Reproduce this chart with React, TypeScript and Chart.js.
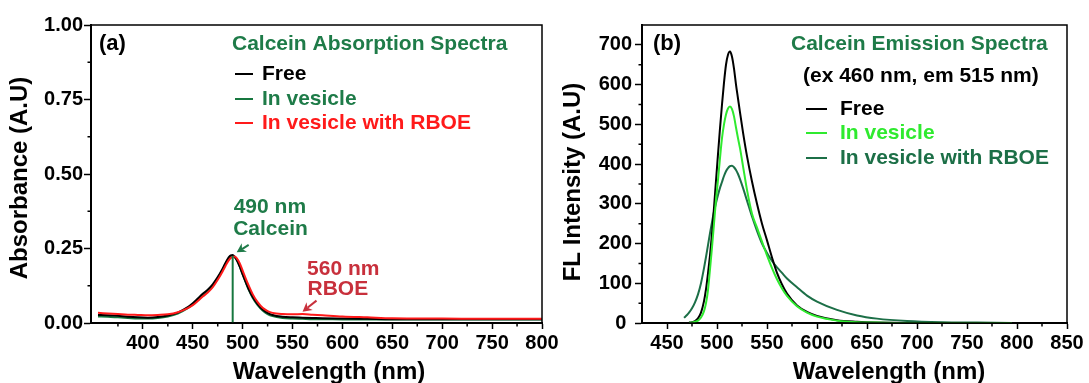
import React, { useEffect, useRef } from "react";
import { Chart, registerables } from "chart.js";

Chart.register(...registerables);

const FONT = '"Liberation Sans", Arial, Helvetica, sans-serif';

// ---------- Panel (a): absorption ----------
const absWavelength = [355, 365, 375, 385, 395, 405, 415, 425, 435, 445, 450, 455, 460, 465, 470, 475, 480, 483, 486, 488, 490, 492, 494, 497, 500, 503, 506, 510, 515, 520, 525, 530, 540, 550, 560, 570, 580, 600, 625, 650, 700, 750, 800];
const absFree = [0.027, 0.026, 0.024, 0.021, 0.019, 0.018, 0.020, 0.025, 0.035, 0.053, 0.066, 0.082, 0.098, 0.112, 0.130, 0.154, 0.183, 0.203, 0.220, 0.227, 0.228, 0.222, 0.212, 0.190, 0.163, 0.138, 0.114, 0.088, 0.063, 0.045, 0.034, 0.027, 0.021, 0.019, 0.018, 0.017, 0.016, 0.015, 0.014, 0.013, 0.013, 0.013, 0.013];
const absVesicle = [0.022, 0.021, 0.019, 0.017, 0.015, 0.015, 0.017, 0.022, 0.032, 0.050, 0.062, 0.077, 0.093, 0.107, 0.125, 0.150, 0.180, 0.200, 0.217, 0.224, 0.226, 0.221, 0.211, 0.190, 0.163, 0.137, 0.112, 0.085, 0.060, 0.042, 0.030, 0.023, 0.017, 0.015, 0.014, 0.013, 0.013, 0.012, 0.012, 0.012, 0.012, 0.012, 0.012];
const absVesicleRboe = [0.034, 0.032, 0.030, 0.028, 0.027, 0.026, 0.027, 0.029, 0.036, 0.050, 0.060, 0.074, 0.089, 0.102, 0.120, 0.145, 0.174, 0.193, 0.210, 0.218, 0.222, 0.223, 0.218, 0.201, 0.176, 0.150, 0.126, 0.097, 0.070, 0.051, 0.040, 0.034, 0.030, 0.029, 0.030, 0.028, 0.026, 0.022, 0.019, 0.016, 0.015, 0.014, 0.014];
const absMarkerX = [490, 490];
const absMarkerY = [0, 0.225];
const absXTicks = [400, 450, 500, 550, 600, 650, 700, 750, 800];
const absXMinor = [375, 425, 475, 525, 575, 625, 675, 725, 775];
const absYTicks = [0, 0.25, 0.5, 0.75, 1.0];
const absYMinor = [0.125, 0.375, 0.625, 0.875];

// ---------- Panel (b): emission ----------
const emWavelength = [467, 470, 472, 475, 478, 481, 484, 487, 489, 491, 493, 495, 497, 499, 501, 503, 505, 507, 509, 511, 513, 515, 517, 519, 521, 523, 526, 530, 535, 540, 545, 550, 555, 560, 565, 570, 580, 590, 600, 620, 640, 660, 690, 725, 760, 795];
const emFree = [null, null, 1, 2, 5, 12, 26, 55, 85, 125, 170, 225, 290, 358, 425, 490, 550, 605, 650, 675, 683, 670, 640, 600, 565, 530, 480, 420, 356, 300, 250, 208, 165, 126, 97, 74, 44, 28, 18, 7, 3, 1, 0, 0, 0, 0];
const emVesicle = [null, null, 0.5, 1, 3, 6, 14, 30, 50, 83, 135, 190, 250, 310, 360, 415, 465, 500, 525, 540, 545, 538, 520, 492, 465, 440, 395, 335, 275, 240, 205, 170, 138, 110, 87, 68, 42, 26, 16, 6, 2, 1, 0, 0, 0, 0];
const emVesicleRboe = [13, 20, 26, 37, 52, 72, 100, 138, 166, 196, 226, 254, 280, 302, 322, 340, 355, 370, 382, 390, 395, 396, 392, 385, 375, 362, 340, 308, 268, 232, 200, 176, 156, 140, 126, 112, 90, 69, 54, 33, 19, 11, 5, 2, 1, 0];
const emXTicks = [450, 500, 550, 600, 650, 700, 750, 800, 850];
const emXMinor = [475, 525, 575, 625, 675, 725, 775, 825];
const emYTicks = [0, 100, 200, 300, 400, 500, 600, 700];
const emYMinor = [50, 150, 250, 350, 450, 550, 650];

const GREEN_TXT = "#1e7b48";
const ABS_GREEN = "#17773f";
const RED = "#ff1a1a";
const RBOE_TXT = "#c8303c";
const EM_LIGHT = "#2fea2f";
const EM_DARK = "#1c6f47";

function pts(xs: number[], ys: (number | null)[]) {
  return xs.map((x, i) => ({ x, y: ys[i] }));
}

function arrow(ctx: CanvasRenderingContext2D, x1: number, y1: number, x2: number, y2: number, color: string) {
  const ang = Math.atan2(y2 - y1, x2 - x1);
  const L = 9, W = 5;
  ctx.strokeStyle = color;
  ctx.fillStyle = color;
  ctx.lineWidth = 2;
  ctx.beginPath();
  ctx.moveTo(x1, y1);
  ctx.lineTo(x2 - Math.cos(ang) * L * 0.7, y2 - Math.sin(ang) * L * 0.7);
  ctx.stroke();
  ctx.beginPath();
  ctx.moveTo(x2, y2);
  ctx.lineTo(x2 - L * Math.cos(ang) + W * Math.sin(ang), y2 - L * Math.sin(ang) - W * Math.cos(ang));
  ctx.lineTo(x2 - L * Math.cos(ang) * 0.7, y2 - L * Math.sin(ang) * 0.7);
  ctx.lineTo(x2 - L * Math.cos(ang) - W * Math.sin(ang), y2 - L * Math.sin(ang) + W * Math.cos(ang));
  ctx.closePath();
  ctx.fill();
}

function makeDecor(cfg: any) {
  return {
    id: "decor",
    afterDraw(chart: any) {
      const ctx: CanvasRenderingContext2D = chart.ctx;
      const ca = chart.chartArea;
      const xs = chart.scales.x;
      const ys = chart.scales.y;
      ctx.save();
      ctx.strokeStyle = "#000";
      ctx.lineWidth = 1.5;
      ctx.strokeRect(ca.left, ca.top, ca.right - ca.left, ca.bottom - ca.top);
      ctx.beginPath();
      for (const v of cfg.minorX) {
        const p = xs.getPixelForValue(v);
        ctx.moveTo(p, ca.bottom);
        ctx.lineTo(p, ca.bottom + 3.5);
      }
      for (const v of cfg.minorY) {
        const p = ys.getPixelForValue(v);
        ctx.moveTo(ca.left, p);
        ctx.lineTo(ca.left - 3.5, p);
      }
      ctx.stroke();
      ctx.textBaseline = "middle";
      for (const t of cfg.texts) {
        ctx.font = `bold ${t.size}px ${FONT}`;
        ctx.fillStyle = t.color;
        ctx.textAlign = t.align || "left";
        if (t.rotate) {
          ctx.save();
          ctx.translate(t.x, t.y);
          ctx.rotate(-Math.PI / 2);
          ctx.fillText(t.text, 0, 0);
          ctx.restore();
        } else {
          ctx.fillText(t.text, t.x, t.y);
        }
      }
      for (const t of cfg.notes || []) {
        ctx.font = `bold ${t.size}px ${FONT}`;
        ctx.fillStyle = t.color;
        ctx.textAlign = "left";
        ctx.fillText(t.text, xs.getPixelForValue(t.x), ys.getPixelForValue(t.y));
      }
      for (const a of cfg.arrows || []) {
        arrow(ctx, xs.getPixelForValue(a.x1), ys.getPixelForValue(a.y1), xs.getPixelForValue(a.x2), ys.getPixelForValue(a.y2), a.color);
      }
      const lg = cfg.legend;
      const items = chart.data.datasets.filter((d: any) => d.label);
      ctx.font = `bold ${lg.size}px ${FONT}`;
      ctx.textAlign = "left";
      items.forEach((d: any, i: number) => {
        const y = lg.ys[i];
        ctx.strokeStyle = d.borderColor;
        ctx.lineWidth = 2;
        ctx.beginPath();
        ctx.moveTo(lg.lineX, y);
        ctx.lineTo(lg.lineX + lg.lineLen, y);
        ctx.stroke();
        ctx.fillStyle = d.textColor || d.borderColor;
        ctx.fillText(d.label, lg.textX, y);
      });
      ctx.restore();
    },
  };
}

function axisCfg(min: number, max: number, ticks: number[], fit: (s: any) => void, tickLen: number, pad: number, fmt: (v: number) => string) {
  return {
    type: "linear",
    min,
    max,
    afterBuildTicks: (s: any) => {
      s.ticks = ticks.map((v) => ({ value: v }));
    },
    afterFit: (s: any) => {
      fit(s);
      s.paddingLeft = 0;
      s.paddingRight = 0;
      s.paddingTop = 0;
      s.paddingBottom = 0;
    },
    grid: { display: true, drawOnChartArea: false, drawTicks: true, tickLength: tickLen, tickWidth: 1.5, tickColor: "#000" },
    border: { display: true, color: "#000", width: 2 },
    ticks: {
      color: "#000",
      font: { family: FONT, size: 20, weight: "bold" },
      padding: pad,
      maxRotation: 0,
      autoSkip: false,
      callback: (v: any) => fmt(Number(v)),
    },
  };
}

function lineDs(label: string | undefined, xs: number[], ys: (number | null)[], color: string, order: number, textColor?: string) {
  return {
    label,
    textColor,
    data: pts(xs, ys),
    borderColor: color,
    backgroundColor: color,
    borderWidth: 2,
    pointRadius: 0,
    fill: false,
    cubicInterpolationMode: "monotone",
    order,
  };
}

function configA(): any {
  return {
    type: "line",
    data: {
      datasets: [
        lineDs("Free", absWavelength, absFree, "#000", 2),
        lineDs("In vesicle", absWavelength, absVesicle, ABS_GREEN, 3, GREEN_TXT),
        lineDs("In vesicle with RBOE", absWavelength, absVesicleRboe, RED, 1),
        { ...lineDs(undefined, absMarkerX, absMarkerY, ABS_GREEN, 0), cubicInterpolationMode: "default" },
      ],
    },
    options: {
      animation: false,
      responsive: false,
      events: [],
      layout: { autoPadding: false, padding: { left: 0, top: 25, right: 58, bottom: 0 } },
      plugins: { legend: { display: false }, tooltip: { enabled: false } },
      scales: {
        x: axisCfg(348, 800, absXTicks, (s) => { s.height = 60; }, 6, 2, (v) => String(v)),
        y: axisCfg(0, 1, absYTicks, (s) => { s.width = 91; }, 7, 1, (v) => v.toFixed(2)),
      },
    },
    plugins: [
      makeDecor({
        minorX: absXMinor,
        minorY: absYMinor,
        texts: [
          { text: "(a)", x: 99, y: 44, size: 22, color: "#000" },
          { text: "Calcein Absorption Spectra", x: 232, y: 44, size: 21, color: GREEN_TXT },
          { text: "Wavelength (nm)", x: 329, y: 372, size: 24, color: "#000", align: "center" },
          { text: "Absorbance (A.U)", x: 20, y: 178, size: 24, color: "#000", align: "center", rotate: true },
        ],
        notes: [
          { text: "490 nm", x: 491, y: 0.388, size: 21, color: GREEN_TXT },
          { text: "Calcein", x: 490.5, y: 0.316, size: 21, color: GREEN_TXT },
          { text: "560 nm", x: 564.5, y: 0.182, size: 21, color: RBOE_TXT },
          { text: "RBOE", x: 565, y: 0.112, size: 21, color: RBOE_TXT },
        ],
        arrows: [
          { x1: 506, y1: 0.262, x2: 494, y2: 0.237, color: GREEN_TXT },
          { x1: 574, y1: 0.075, x2: 560, y2: 0.038, color: RBOE_TXT },
        ],
        legend: { lineX: 235, lineLen: 18, textX: 262, ys: [74, 99, 123], size: 21 },
      }),
    ],
  };
}

function configB(): any {
  return {
    type: "line",
    data: {
      datasets: [
        lineDs("Free", emWavelength, emFree, "#000", 1),
        lineDs("In vesicle", emWavelength, emVesicle, EM_LIGHT, 0),
        lineDs("In vesicle with RBOE", emWavelength, emVesicleRboe, EM_DARK, 2),
      ],
    },
    options: {
      animation: false,
      responsive: false,
      events: [],
      layout: { autoPadding: false, padding: { left: 0, top: 25, right: 22, bottom: 0 } },
      plugins: { legend: { display: false }, tooltip: { enabled: false } },
      scales: {
        x: axisCfg(425, 850, emXTicks, (s) => { s.height = 60; }, 6, 2, (v) => String(v)),
        y: axisCfg(0, 750, emYTicks, (s) => { s.width = 97; }, 7, 3, (v) => (v === 0 ? "0 " : String(v))),
      },
    },
    plugins: [
      makeDecor({
        minorX: emXMinor,
        minorY: emYMinor,
        texts: [
          { text: "(b)", x: 108, y: 44, size: 22, color: "#000" },
          { text: "Calcein Emission Spectra", x: 246, y: 44, size: 21, color: GREEN_TXT },
          { text: "(ex 460 nm, em 515 nm)", x: 258, y: 76, size: 21, color: "#000" },
          { text: "Wavelength (nm)", x: 344, y: 372, size: 24, color: "#000", align: "center" },
          { text: "FL Intensity (A.U)", x: 28, y: 182, size: 24, color: "#000", align: "center", rotate: true },
        ],
        legend: { lineX: 261, lineLen: 21, textX: 295, ys: [109, 133, 158], size: 21 },
      }),
    ],
  };
}

export default function App() {
  const refA = useRef<HTMLCanvasElement>(null);
  const refB = useRef<HTMLCanvasElement>(null);
  useEffect(() => {
    const a = new Chart(refA.current as HTMLCanvasElement, configA());
    const b = new Chart(refB.current as HTMLCanvasElement, configB());
    return () => {
      a.destroy();
      b.destroy();
    };
  }, []);
  return (
    <div style={{ position: "fixed", left: 0, top: 0, width: 1089, height: 383, background: "#fff", overflow: "hidden" }}>
      <canvas ref={refA} width={600} height={383} style={{ position: "absolute", left: 0, top: 0, width: 600, height: 383 }} />
      <canvas ref={refB} width={544} height={383} style={{ position: "absolute", left: 545, top: 0, width: 544, height: 383 }} />
    </div>
  );
}
